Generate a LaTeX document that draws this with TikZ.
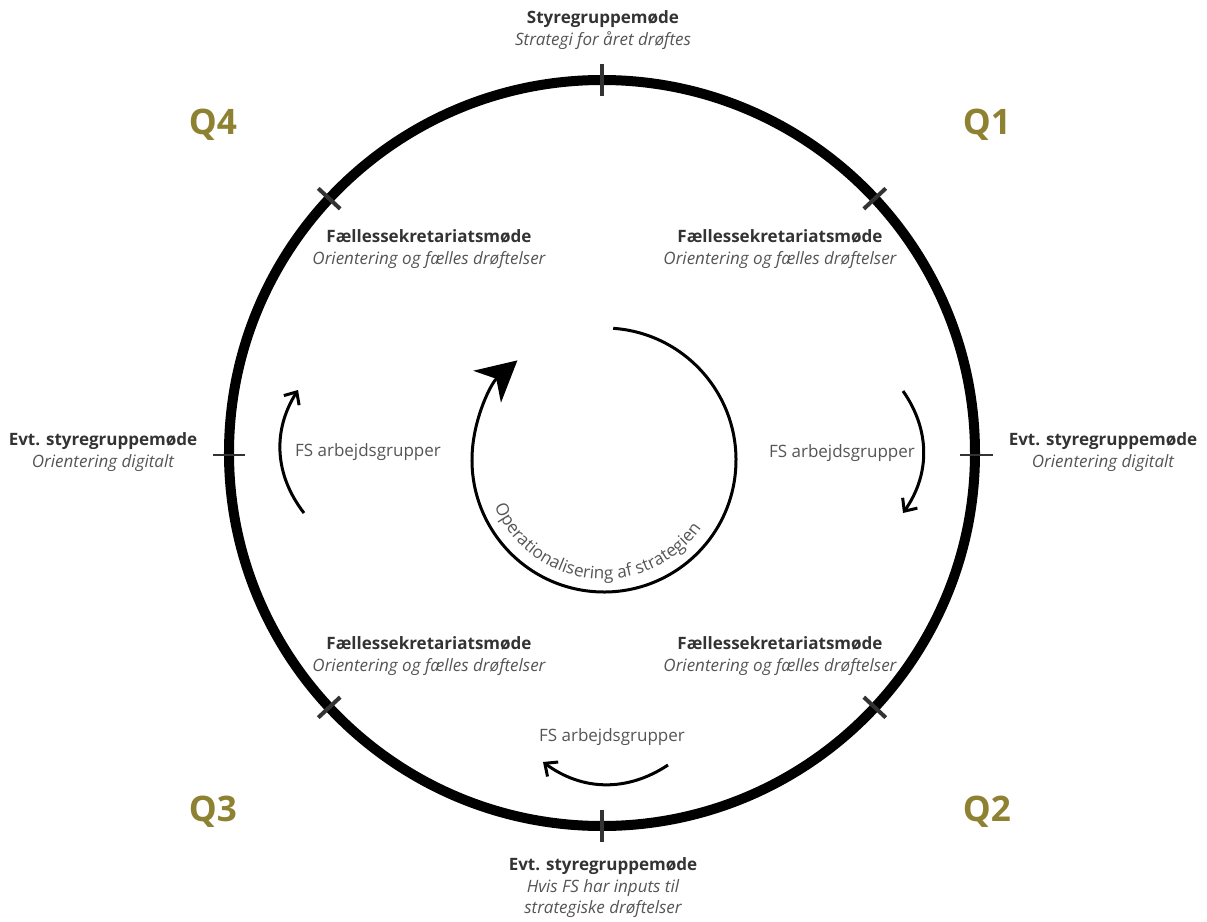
\documentclass[tikz,border=0pt]{standalone}
\usepackage{fontspec}
\setmainfont{Open Sans}
\usetikzlibrary{arrows.meta,decorations.text}
\definecolor{qolive}{HTML}{8E8232}
\definecolor{headgray}{HTML}{333333}
\definecolor{subgray}{HTML}{555555}
\newcommand{\labelsize}{\fontsize{12.1}{15.3}\selectfont}
\newcommand{\arcfont}{\fontsize{12.2}{14}\selectfont\color{subgray}}
\newcommand{\head}[1]{\textcolor{headgray}{\upshape\bfseries #1}}
\begin{document}
\begin{tikzpicture}[x=0.025cm,y=0.025cm,
  meeting/.style={align=center,font=\labelsize\itshape,text=subgray,inner sep=0pt},
  quarter/.style={font=\fontsize{25}{30}\selectfont\bfseries,text=qolive},
  group/.style={font=\labelsize,text=subgray},
  flow/.style={line width=0.075cm,-{Straight Barb[length=0.25cm,width=0.45cm]},bend left=35},
  tickmark/.style={line width=0.1cm,draw=headgray}]
  \useasboundingbox (-602,-468) rectangle (605,453);
  % Year wheel
  \draw[line width=0.25cm] (0,0) circle[radius=373];
  \draw[tickmark] (0,357) -- (0,389);
  \draw[tickmark] (0,-357) -- (0,-389);
  \draw[tickmark,line width=0.05cm] (-389,-2) -- (-357,-2);
  \draw[tickmark,line width=0.05cm] (358,-2) -- (391,-2);
  \foreach \a in {43,137,-137,-43}
    \draw[tickmark] (\a:358) -- (\a:388);
  % Quarters
  \node[quarter] (qone) at (385,328) {Q1};
  \node[quarter] (qtwo) at (385,-359) {Q2};
  \node[quarter] (qthree) at (-389,-359) {Q3};
  \node[quarter] (qfour) at (-389,328) {Q4};
  % Meetings
  \node[meeting] (styr) at (1,423) {\head{Styregruppemøde}\\Strategi for året drøftes};
  \node[meeting] (fstl) at (-173,204) {\head{Fællessekretariatsmøde}\\Orientering og fælles drøftelser};
  \node[meeting] (fstr) at (178,204) {\head{Fællessekretariatsmøde}\\Orientering og fælles drøftelser};
  \node[meeting] (fsbl) at (-173,-203) {\head{Fællessekretariatsmøde}\\Orientering og fælles drøftelser};
  \node[meeting] (fsbr) at (178,-203) {\head{Fællessekretariatsmøde}\\Orientering og fælles drøftelser};
  \node[meeting] (evtl) at (-499,1) {\head{Evt. styregruppemøde}\\Orientering digitalt};
  \node[meeting] (evtr) at (501,1) {\head{Evt. styregruppemøde}\\Orientering digitalt};
  \node[meeting] (evtb) at (1,-435) {\head{Evt. styregruppemøde}\\Hvis FS har inputs til\\strategiske drøftelser};
  % Working groups
  \node[group] (grpl) at (-234,1) {FS arbejdsgrupper};
  \node[group] (grpr) at (240,0) {FS arbejdsgrupper};
  \node[group] (grpb) at (10,-284) {FS arbejdsgrupper};
  \coordinate (lfrom) at (-298,-60);
  \coordinate (lto) at (-304,63);
  \coordinate (rfrom) at (301,62);
  \coordinate (rto) at (301,-60);
  \coordinate (bfrom) at (66,-312);
  \coordinate (bto) at (-59,-309);
  \draw[flow] (lfrom) to (lto);
  \draw[flow] (rfrom) to (rto);
  \draw[flow] (bfrom) to (bto);
  % Strategy loop
  \coordinate (opcentre) at (2,-7);
  \draw[line width=0.075cm,-{Stealth[length=1cm,width=1.05cm,inset=0.3cm]}]
    (opcentre) ++(86:132) arc[start angle=86,end angle=-229,radius=132];
  \path[decorate,decoration={text along path,text align=center,
    text={|\arcfont|Operationalisering af strategien}}]
    (opcentre) ++(-166:119) arc[start angle=-166,end angle=-26,radius=119];
\end{tikzpicture}
\end{document}
